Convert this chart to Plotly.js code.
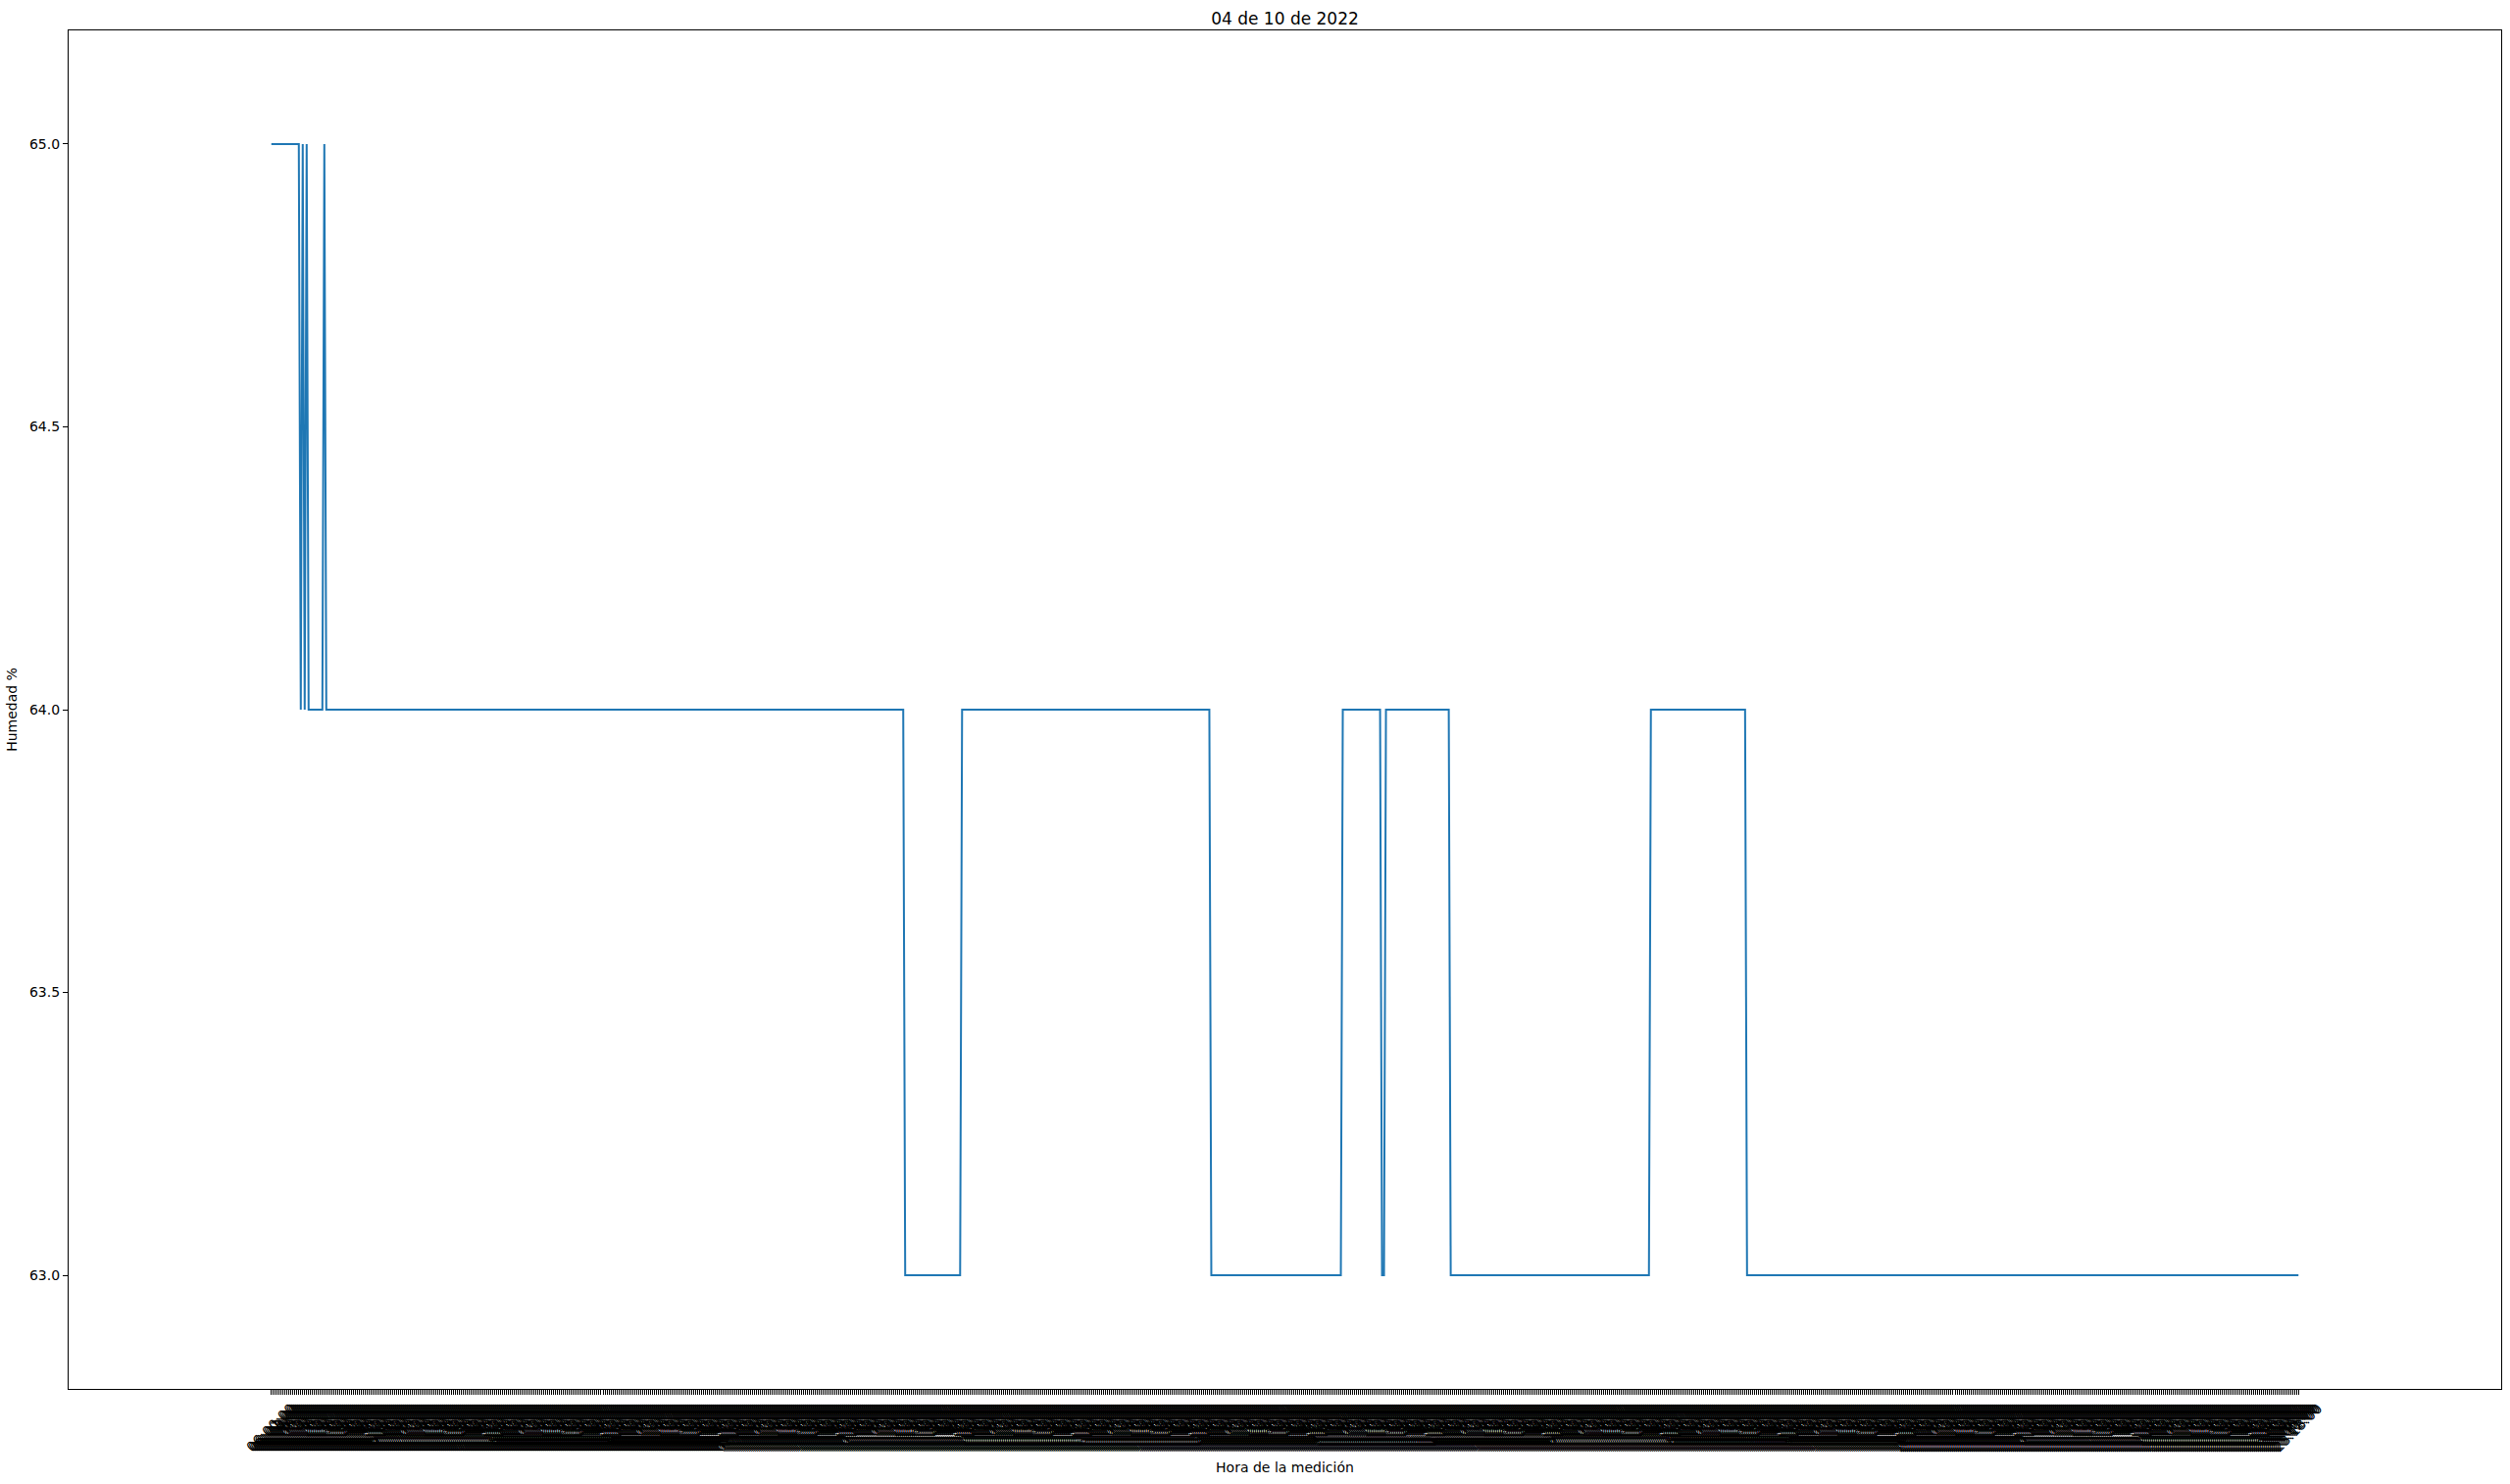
<!DOCTYPE html>
<html>
<head>
<meta charset="utf-8">
<script src="https://cdn.plot.ly/plotly-3.0.1.min.js"></script>
<style>
  html, body { margin: 0; padding: 0; background: #ffffff; }
  #chart { width: 2560px; height: 1514px; }
</style>
</head>
<body>
<div id="chart"></div>
<script>
const valoresTramo  = [65, 64, 65, 64, 65, 64, 65, 64,  63, 64,  63, 64, 63, 64, 63,  64, 63];
const longitudTramo = [15,  1,  1,  1,  1,  8,  1, 295, 29, 127, 67, 20,  2, 33, 102, 49, 282];

// Tick labels on the x axis are illegible in the reference (1034 overlapping "HH:MM:SS" labels);
// a regular one-reading-per-minute clock is assumed for them.
const horaInicio = "06:00:00";
const pasoSegundos = 60;

const titulo = "04 de 10 de 2022";
const tituloX = "Hora de la medición";
const tituloY = "Humedad %";
const ticksY = [63.0, 63.5, 64.0, 64.5, 65.0];

// decode runs into the series
const humedad = [];
valoresTramo.forEach((v, i) => { for (let k = 0; k < longitudTramo[i]; k++) humedad.push(v); });
const n = humedad.length;

function pad(x) { return String(x).padStart(2, "0"); }
const [h0, m0, s0] = horaInicio.split(":").map(Number);
const horas = [];
for (let i = 0; i < n; i++) {
  const t = h0 * 3600 + m0 * 60 + s0 + i * pasoSegundos;
  horas.push(pad(Math.floor(t / 3600) % 24) + ":" + pad(Math.floor(t / 60) % 60) + ":" + pad(t % 60));
}
const idx = horas.map((_, i) => i);

const font = { family: "DejaVu Sans, sans-serif", size: 14, color: "#000000" };

Plotly.newPlot("chart", [{
  x: idx,
  y: humedad,
  type: "scatter",
  mode: "lines",
  line: { color: "#1f77b4", width: 2 },
  hoverinfo: "skip"
}], {
  width: 2560,
  height: 1514,
  margin: { l: 70, r: 9, t: 31, b: 97, pad: 0 },
  paper_bgcolor: "#ffffff",
  plot_bgcolor: "#ffffff",
  showlegend: false,
  font: font,
  title: {
    text: titulo,
    font: { family: "DejaVu Sans, sans-serif", size: 17, color: "#000000" },
    x: 0.5, xref: "paper", xanchor: "center",
    y: 1, yref: "paper", yanchor: "bottom",
    pad: { b: 6 }
  },
  xaxis: {
    range: [-0.1 * (n - 1), 1.1 * (n - 1)],
    tickmode: "array",
    tickvals: idx,
    ticktext: horas,
    tickangle: -45,
    ticklabelshift: 20,
    ticks: "outside",
    ticklen: 5,
    tickwidth: 1,
    tickcolor: "#000000",
    tickfont: { family: "DejaVu Sans, sans-serif", size: 14, color: "#000000" },
    showgrid: false,
    zeroline: false,
    showline: true,
    linecolor: "#000000",
    linewidth: 1.1,
    mirror: true,
    automargin: false,
    title: { text: tituloX, font: font, standoff: 8 }
  },
  yaxis: {
    range: [62.799, 65.201],
    tickmode: "array",
    tickvals: ticksY,
    ticktext: ticksY.map(v => v.toFixed(1)),
    ticks: "outside",
    ticklen: 5,
    tickwidth: 1,
    tickcolor: "#000000",
    tickfont: font,
    showgrid: false,
    zeroline: false,
    showline: true,
    linecolor: "#000000",
    linewidth: 1.1,
    mirror: true,
    automargin: false,
    title: { text: tituloY, font: font, standoff: 9 }
  }
}, { displayModeBar: false, staticPlot: true });
</script>
</body>
</html>
